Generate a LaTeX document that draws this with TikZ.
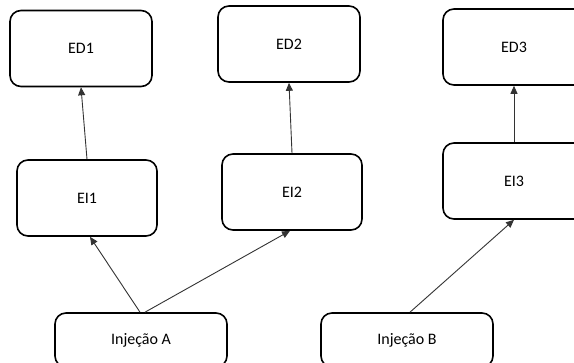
\documentclass[tikz,border=0pt]{standalone}
\usepackage{fontspec}
\setmainfont{Carlito}
\usetikzlibrary{arrows.meta}

\tikzset{
  box/.style={draw=black, line width=1.6pt, rounded corners=11pt, fill=white,
    inner sep=0pt, minimum width=142pt, minimum height=76pt,
    font=\fontsize{16}{19}\selectfont},
  wide/.style={box, minimum width=172pt, minimum height=54pt},
  link/.style={draw=black!80, line width=0.9pt,
    -{Triangle[length=8pt,width=7pt]}}
}

\begin{document}
\begin{tikzpicture}[x=1pt,y=-1pt]
  \clip (0,0) rectangle (574,363);
  \fill[white] (0,0) rectangle (574,363);

  % top row
  \node[box] (ed1) at (81,48.5) {ED1};
  \node[box] (ed2) at (289,44) {ED2};
  \node[box] (ed3) at (514,47) {ED3};

  % middle row
  \node[box, minimum width=140pt] (ei1) at (87,198) {EI1};
  \node[box, minimum width=140pt] (ei2) at (292,192) {EI2};
  \node[box] (ei3) at (514,181) {EI3};

  % bottom row
  \node[wide] (ia) at (141,340) {Injeção A};
  \node[wide] (ib) at (407,340) {Injeção B};

  % connectors
  \draw[link] (ei1.north) -- (ed1.south);
  \draw[link] (ei2.north) -- (ed2.south);
  \draw[link] (ei3.north) -- (ed3.south);
  \draw[link] ([xshift=-1pt]ia.north) -- ([xshift=3pt]ei1.south);
  \draw[link] ([xshift=4pt]ia.north) -- ([xshift=-2pt]ei2.south);
  \draw[link] ([xshift=3pt]ib.north) -- (ei3.south);
\end{tikzpicture}
\end{document}
